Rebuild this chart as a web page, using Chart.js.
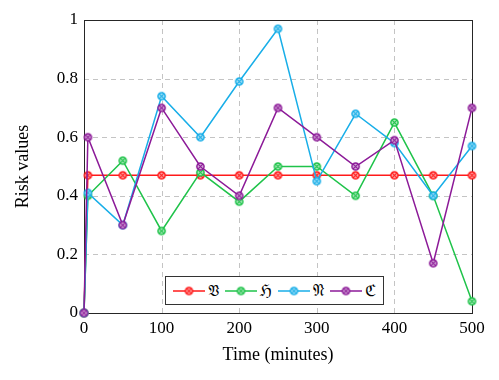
<!DOCTYPE html>
<html>
<head>
<meta charset="utf-8">
<script src="https://cdn.jsdelivr.net/npm/chart.js@4/dist/chart.umd.min.js"></script>
<style>
  html, body { margin: 0; padding: 0; background: #fff; }
  #wrap { position: relative; width: 499px; height: 380px; }
  #legend {
    position: absolute; left: 165px; top: 276px; width: 217px; height: 27px;
    border: 1px solid #333; background: #fff;
    display: flex; align-items: center; justify-content: center;
    font-family: "DejaVu Serif", "DejaVu Sans", serif; font-size: 16px; color: #000;
  }
  .item { display: flex; align-items: center; margin: 0 3px; }
  .item canvas { display: block; margin-right: 3px; }
</style>
</head>
<body>
<div id="wrap">
  <canvas id="c" width="499" height="380"></canvas>
  <div id="legend"></div>
</div>
<script>
const times = [0, 5, 50, 100, 150, 200, 250, 300, 350, 400, 450, 500];
const seriesNames = ['\u{1D519}', '\u210C', '\u{1D511}', '\u212D'];
const seriesColors = ['#ff1a1a', '#1fc34a', '#18aee8', '#8c1a98'];
const valuesV = [0, 0.47, 0.47, 0.47, 0.47, 0.47, 0.47, 0.47, 0.47, 0.47, 0.47, 0.47];
const valuesH = [0, 0.40, 0.52, 0.28, 0.48, 0.38, 0.50, 0.50, 0.40, 0.65, 0.40, 0.04];
const valuesN = [0, 0.41, 0.30, 0.74, 0.60, 0.79, 0.97, 0.45, 0.68, 0.58, 0.40, 0.57];
const valuesC = [0, 0.60, 0.30, 0.70, 0.50, 0.40, 0.70, 0.60, 0.50, 0.59, 0.17, 0.70];
const yTicks = [0, 0.2, 0.4, 0.6, 0.8, 1];
const xTicks = [0, 100, 200, 300, 400, 500];
const allValues = [valuesV, valuesH, valuesN, valuesC];

function makeMarker(color) {
  const c = document.createElement('canvas');
  c.width = 11; c.height = 11;
  const g = c.getContext('2d');
  const r = 3.6, cx = 5.5, cy = 5.5;
  g.beginPath(); g.arc(cx, cy, r, 0, Math.PI * 2);
  g.fillStyle = '#fff'; g.fill();
  g.globalAlpha = 0.35; g.fillStyle = color; g.fill();
  g.globalAlpha = 1;
  g.lineWidth = 1.5; g.strokeStyle = color; g.stroke();
  g.lineWidth = 1.2; g.beginPath();
  const d = r * 0.72;
  g.moveTo(cx - d, cy - d); g.lineTo(cx + d, cy + d);
  g.moveTo(cx - d, cy + d); g.lineTo(cx + d, cy - d);
  g.stroke();
  return c;
}

const datasets = allValues.map((vals, i) => ({
  label: seriesNames[i],
  data: times.map((t, j) => ({ x: t, y: vals[j] })),
  borderColor: seriesColors[i],
  backgroundColor: seriesColors[i],
  borderWidth: 1.5,
  pointStyle: makeMarker(seriesColors[i]),
  pointRadius: 4,
  tension: 0,
  clip: false,
  order: 4 - i
}));

const gridFramePlugin = {
  id: 'gridFrame',
  beforeDatasetsDraw(chart) {
    const a = chart.chartArea, ctx = chart.ctx;
    const xs = chart.scales.x, ys = chart.scales.y;
    ctx.save();
    ctx.strokeStyle = '#c4c4c4';
    ctx.lineWidth = 1;
    ctx.setLineDash([5, 4]);
    xs.ticks.forEach(t => {
      if (t.value <= xs.min || t.value >= xs.max) return;
      const px = Math.round(xs.getPixelForValue(t.value)) + 0.5;
      ctx.beginPath(); ctx.moveTo(px, a.bottom); ctx.lineTo(px, a.top); ctx.stroke();
    });
    ys.ticks.forEach(t => {
      if (t.value <= ys.min || t.value >= ys.max) return;
      const py = Math.round(ys.getPixelForValue(t.value)) + 0.5;
      ctx.beginPath(); ctx.moveTo(a.left, py); ctx.lineTo(a.right, py); ctx.stroke();
    });
    ctx.setLineDash([]);
    ctx.strokeStyle = '#262626';
    ctx.strokeRect(Math.round(a.left) + 0.5, Math.round(a.top) + 0.5,
                   Math.round(a.right - a.left), Math.round(a.bottom - a.top));
    ctx.restore();
  }
};

const fontFam = '"Liberation Serif", "Times New Roman", serif';
new Chart(document.getElementById('c'), {
  type: 'line',
  data: { datasets },
  plugins: [gridFramePlugin],
  options: {
    responsive: false,
    animation: false,
    layout: { padding: { top: 20, right: 27, left: 0, bottom: 0 } },
    plugins: { legend: { display: false }, tooltip: { enabled: false } },
    scales: {
      x: {
        type: 'linear', min: 0, max: 500,
        afterBuildTicks(s) { s.ticks = xTicks.map(v => ({ value: v })); },
        afterFit(s) { s.height = 67; },
        grid: { display: false, drawTicks: false },
        border: { display: false },
        ticks: { color: '#000', padding: 5, font: { family: fontFam, size: 17 } },
        title: { display: true, text: 'Time (minutes)', color: '#000',
                 font: { family: fontFam, size: 18 }, padding: { top: 4, bottom: 14 } }
      },
      y: {
        type: 'linear', min: 0, max: 1,
        afterBuildTicks(s) { s.ticks = yTicks.map(v => ({ value: v })); },
        afterFit(s) { s.width = 84; },
        grid: { display: false, drawTicks: false },
        border: { display: false },
        ticks: { color: '#000', padding: 6, font: { family: fontFam, size: 17 },
                 callback: v => String(v) },
        title: { display: true, text: 'Risk values', color: '#000',
                 font: { family: fontFam, size: 18 }, padding: { top: 12, bottom: 4 } }
      }
    }
  }
});

const legend = document.getElementById('legend');
seriesNames.forEach((name, i) => {
  const item = document.createElement('div');
  item.className = 'item';
  const cv = document.createElement('canvas');
  cv.width = 32; cv.height = 12;
  const g = cv.getContext('2d');
  g.strokeStyle = seriesColors[i]; g.lineWidth = 1.5;
  g.beginPath(); g.moveTo(0, 6); g.lineTo(32, 6); g.stroke();
  g.drawImage(makeMarker(seriesColors[i]), 10.5, 0.5);
  const sp = document.createElement('span');
  sp.textContent = name;
  item.appendChild(cv); item.appendChild(sp);
  legend.appendChild(item);
});
</script>
</body>
</html>
